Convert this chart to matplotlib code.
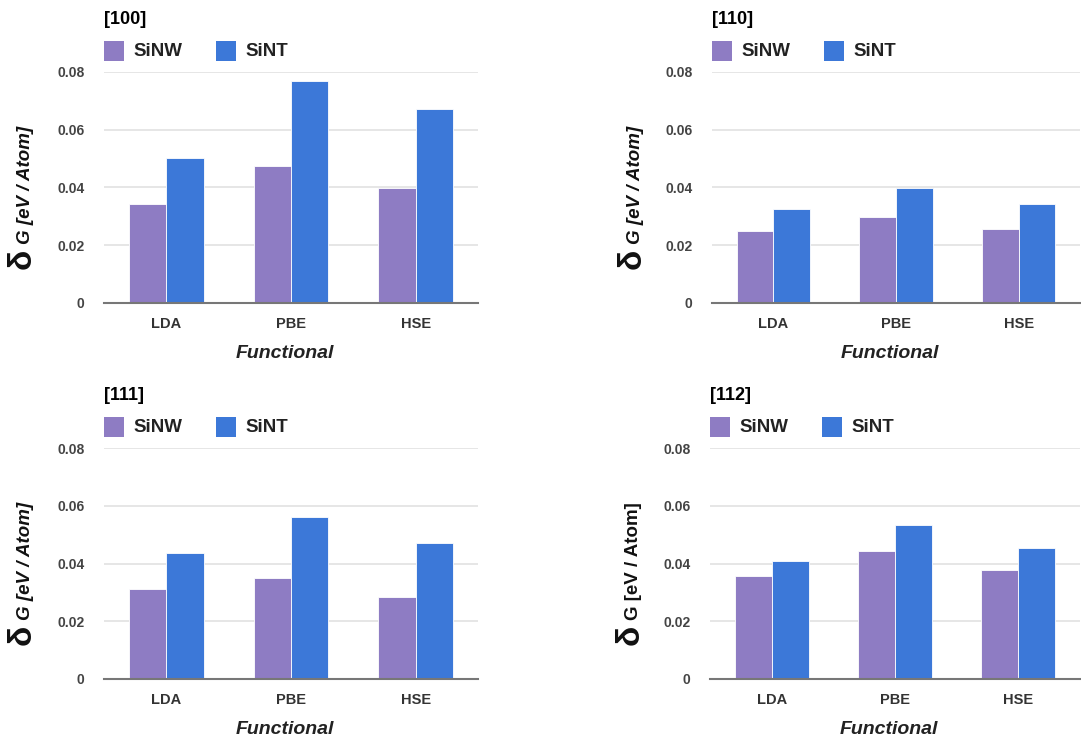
import matplotlib
matplotlib.use("Agg")
import matplotlib.pyplot as plt
from matplotlib.patches import Rectangle

# -------------------------------
# DATA
# -------------------------------
functionals = ["LDA", "PBE", "HSE"]
panels = ["[100]", "[110]", "[111]", "[112]"]

sinw_100 = [0.0342, 0.0476, 0.0399]
sint_100 = [0.0503, 0.0770, 0.0672]
sinw_110 = [0.0250, 0.0299, 0.0257]
sint_110 = [0.0324, 0.0398, 0.0342]
sinw_111 = [0.0313, 0.0351, 0.0285]
sint_111 = [0.0437, 0.0561, 0.0472]
sinw_112 = [0.0355, 0.0444, 0.0377]
sint_112 = [0.0409, 0.0532, 0.0454]

yticks = [0, 0.02, 0.04, 0.06, 0.08]
ytick_labels = ["0", "0.02", "0.04", "0.06", "0.08"]

# -------------------------------
# STYLE
# -------------------------------
W, H = 1081, 742
C_NW = "#8e7cc3"
C_NT = "#3c78d8"
FONT = "Liberation Sans"
plt.rcParams["font.family"] = [FONT, "DejaVu Sans"]

fig = plt.figure(figsize=(W / 100, H / 100), dpi=100)


def fx(px):
    return px / W


def fy(py):
    return 1 - py / H


# (left, top, right, bottom) in pixels, ylabel x, italic unit
layout = [
    (104, 72, 478, 303, 22, True),
    (712, 72, 1080, 303, 632, True),
    (104, 448, 478, 679, 22, True),
    (710, 448, 1080, 679, 630, False),
]
data = [(sinw_100, sint_100), (sinw_110, sint_110),
        (sinw_111, sint_111), (sinw_112, sint_112)]

for name, (l, t, r, b, ylx, ital), (nw, nt) in zip(panels, layout, data):
    ax = fig.add_axes([fx(l), fy(b), fx(r - l), (b - t) / H])
    x = range(len(functionals))
    ax.bar([i - 0.15 for i in x], nw, width=0.3, color=C_NW,
           edgecolor="white", linewidth=0.6, zorder=3)
    ax.bar([i + 0.15 for i in x], nt, width=0.3, color=C_NT,
           edgecolor="white", linewidth=0.6, zorder=3)
    ax.set_xlim(-0.5, 2.5)
    ax.set_ylim(0, 0.08)
    ax.set_yticks(yticks)
    ax.set_yticklabels(ytick_labels, fontsize=10, fontweight="bold", color="#444444")
    ax.set_xticks(list(x))
    ax.set_xticklabels(functionals, fontsize=10.5, fontweight="bold", color="#333333")
    ax.tick_params(length=0, axis="y", pad=14)
    ax.tick_params(length=0, axis="x", pad=10)
    ax.grid(axis="y", color="#e2e2e2", linewidth=1.2, zorder=0)
    for s in ["top", "right", "left"]:
        ax.spines[s].set_visible(False)
    ax.spines["bottom"].set_color("#777777")
    ax.spines["bottom"].set_linewidth(1.5)
    ax.spines["bottom"].set_zorder(4)

    # title
    fig.text(fx(l), fy(t - 53), name, fontsize=13, fontweight="bold",
             color="black", ha="left", va="center")

    # legend
    for off, col, lab in [(0, C_NW, "SiNW"), (112, C_NT, "SiNT")]:
        fig.add_artist(Rectangle((fx(l + off), fy(t - 11)), fx(20), 20 / H,
                                 facecolor=col, edgecolor="none",
                                 transform=fig.transFigure))
        fig.text(fx(l + off + 29), fy(t - 21), lab, fontsize=13.5,
                 fontweight="bold", color="#222222", ha="left", va="center")

    # x label
    fig.text(fx((l + r) / 2 - 6), fy(b + 50), "Functional", fontsize=14,
             fontweight="bold", style="italic", color="#222222",
             ha="center", va="center")

    # y label (big delta + rest)
    y0 = b - 34
    fig.text(fx(ylx), fy(y0), "δ", fontsize=24, fontweight="bold",
             rotation=90, ha="center", va="bottom", color="#111111")
    fig.text(fx(ylx + 3), fy(y0 - 25), "G [eV / Atom]", fontsize=13.5,
             fontweight="bold", style="italic" if ital else "normal",
             rotation=90, ha="center", va="bottom", color="#111111")

fig.savefig("out.png", dpi=100, facecolor="white")
